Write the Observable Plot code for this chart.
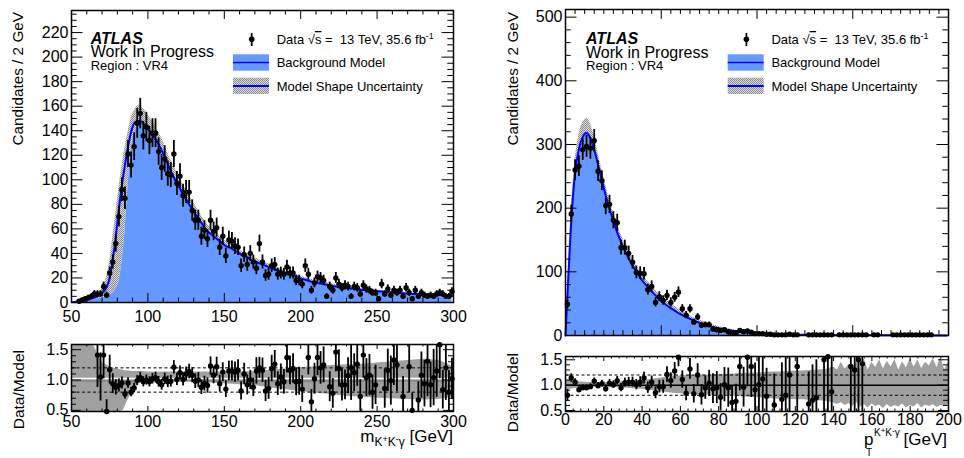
<!DOCTYPE html>
<html><head><meta charset="utf-8">
<script src="https://cdn.jsdelivr.net/npm/d3@7"></script>
<script src="https://cdn.jsdelivr.net/npm/@observablehq/plot@0.6"></script>
<style>
body{margin:0;background:#fff;}
#wrap{position:relative;width:964px;height:458px;overflow:hidden;background:#fff;}
#wrap > svg{position:absolute;}
</style></head><body><div id="wrap"></div>
<script>
// ---------------- LEFT PANEL: m(K+K-gamma), 2 GeV bins ----------------
const massBins = d3.range(51, 300, 2);
const massData = [
  null,null,1,2,3,4,5,7,7,7,
  13,6,24,33,48,70,92,85,121,112,
  127,146,154,136,143,132,138,138,123,110,
  117,105,104,121,97,103,87,90,90,75,
  67,67,54,59,52,67,58,61,45,54,
  38,51,50,46,45,30,39,31,40,33,
  28,48,33,22,23,30,31,23,24,23,
  29,24,24,18,18,15,30,23,10,16,
  21,20,18,5,13,10,20,15,12,14,
  13,5,13,12,7,14,11,10,8,8,
  3,15,7,11,6,10,8,10,5,12,
  8,3,10,5,8,6,5,6,5,7,
  8,7,5,5,9];
const massModel = [
  0.3,0.6,1.0,1.5,2.0,2.5,3.2,4.0,5.0,6.7,
  9,12.5,20,35,54,76,96,112,127,139,
  146,148,148,146,143,140,137,133,129,124,
  119,113,107,102,97,93,88,84,80,76,
  72,68,65,61,58,56,54,52,50,48,
  46,45,44,42,41,39,38,37,35,34,
  33,32,31,30,29,28,27,26,25,24,
  23,22.3,21.6,21,20,19.2,18.5,17.7,17,16.5,
  16,15.5,15,14.5,14,13.5,13,12.6,12.2,11.9,
  11.6,11.3,11,10.7,10.4,10.2,10,9.7,9.5,9.3,
  9.1,8.9,8.7,8.5,8.3,8.1,7.9,7.7,7.5,7.3,
  7.1,7,6.9,6.8,6.7,6.6,6.5,6.4,6.3,6.2,
  6.1,6,6,5.9,5.8];
// blue filled model on the rising edge (bins 51..97); afterwards it follows the line
const massAreaRise = [0.1,0.3,0.5,0.8,1.1,1.5,2,2.5,3,3.5, 4,5,6,8,11,17,33,58,95,124, 137,143,145,145];
const massBandHi = [
  0.5,1,1.5,2.2,3,3.7,4.5,5.5,7,9.5,
  14,21,34,53,73,93,111,126,139,150,
  156,160,161,158,155,151,148,144,139,134,
  128,122,116,111,106,101,96,92,87,83,
  79,75,71,67,64,61,59,57,54,52,
  50,49,47,46,44,42,41,40,38,37,
  36,34.5,33.5,32.5,31.5,30.5,29.5,28.5,27.5,26.5,
  25.5,24.5,23.5,22.8,22,21.2,20.4,19.6,19,18.4,
  17.8,17.2,16.7,16.2,15.7,15.2,14.7,14.2,13.8,13.4,
  13,12.6,12.2,11.9,11.6,11.3,11,10.7,10.4,10.1,
  9.9,9.7,9.4,9.2,9,8.8,8.6,8.4,8.2,8,
  7.8,7.6,7.5,7.4,7.3,7.2,7.1,7,6.9,6.8,
  6.7,6.6,6.6,6.5,6.4];
const massRatioX = [
  67,69,71,73,75,77,79,81,83,85, 87,89,91,93,95,97,99,101,103,105,
  107,109,111,113,115,117,119,121,123,125, 127,129,131,133,135,137,139,141,143,145,
  147,149,151,153,155,157,159,161,163,165, 167,169,171,173,175,177,179,181,183,185,
  187,189,191,193,195,197,199,201,
  205,207,209,211,213,215,
  219,221,223,225,227,229,231,233,235,237,239,241,243,245,247,249,
  255,257,259,261,263, 267, 271,273,
  277,279,281,283,285,287,289,291,293,295,297,299];
const massRatioY = [
  1.41,1.05,1.41,0.48,1.17,0.94,0.88,0.91,0.95,0.77, 0.95,0.80,0.87,0.99,1.04,0.97,1.00,0.97,1.02,1.04,
  0.97,0.92,1.02,0.97,0.98,1.21,1.01,1.12,1.01,1.10, 1.14,1.08,0.98,1.00,0.88,0.94,0.91,1.23,1.08,1.22,
  0.94,1.13,0.85,1.15,1.15,1.13,1.16,0.82,1.10,0.92, 1.00,0.88,1.15,1.20,1.16,0.82,0.86,1.19,1.26,0.94,
  1.05,0.97,1.37,1.16,1.19,0.97,0.98,0.85,
  1.37,0.64,1.02,1.37,1.20,1.25,
  0.89,0.78,1.46,1.19,0.92,0.92,1.07,1.20,1.12,1.26,0.73,1.41,1.04,1.08,0.80,0.92,
  0.86,1.16,0.99,1.33,1.25, 0.73, 1.22,0.50,
  0.67,1.08,0.94,1.31,0.92,1.04,1.15,1.58,0.84,1.20,0.80,1.02];
const massBandX  = [50,64,66,68,70,72,74,76,78,80,82,84,86,88,90,92,94,96,100,110,120,130,140,150,160,170,180,190,200,210,220,230,240,250,260,270,280,290,300];
const massBandRHi = [1.59,1.59,1.50,1.38,1.30,1.26,1.23,1.21,1.19,1.18,1.17,1.16,1.15,1.15,1.14,1.14,1.14,1.14,1.13,1.13,1.13,1.13,1.13,1.13,1.13,1.14,1.16,1.18,1.20,1.22,1.24,1.25,1.26,1.28,1.30,1.32,1.34,1.33,1.22];
const massBandRLo = [0.48,0.48,0.48,0.48,0.48,0.48,0.48,0.48,0.48,0.48,0.48,0.50,0.62,0.72,0.81,0.88,0.94,0.98,1.00,1.00,0.99,0.97,0.95,0.94,0.92,0.91,0.87,0.84,0.81,0.78,0.76,0.73,0.72,0.70,0.69,0.68,0.67,0.68,0.72];
const massXTicks = [50,100,150,200,250,300];
const massYTicks = [0,20,40,60,80,100,120,140,160,180,200,220];
const ratioYTicks = [0.5,1.0,1.5];

// ---------------- RIGHT PANEL: pT(K+K-gamma), 2 GeV bins ----------------
const ptBins = d3.range(1, 200, 2);
const ptData = [
  49,191,260,266,292,297,294,306,258,243,
  204,206,181,177,138,138,129,115,99,98,
  97,72,77,52,61,55,63,52,60,68,
  42,32,42,21,29,16,17,17,10,9,
  8,9,6,4,4,8,6,7,5,3,
  3,3,2,2,1,1,1,1,2,1,
  1,null,null,1,1,1,1,1,1,1,
  null,1,1,1,1,1,1,1,1,null,
  1,1,null,null,null,1,1,1,1,1,
  1,1,1,1,1,1,null,null,null,null];
const ptCurveX = [0].concat(ptBins);
const ptModel = [0,
  62,180,255,293,312,318,310,292,268,244,
  220,199,180,162,147,133,121,110,100,91,
  83,76,69,63,57,52,47,43,39,35,
  32,29,26,23.5,21,19,17,15,13.5,12,
  10.7,9.5,8.5,7.6,6.8,6.1,5.5,4.9,4.4,3.9,
  3.5,3.1,2.8,2.5,2.2,2.0,1.8,1.6,1.45,1.3,
  1.2,1.1,1.0,0.9,0.85,0.8,0.75,0.7,0.65,0.6,
  0.56,0.52,0.49,0.46,0.43,0.4,0.38,0.36,0.34,0.32,
  0.3,0.28,0.26,0.25,0.24,0.23,0.22,0.21,0.2,0.19,
  0.18,0.17,0.17,0.16,0.15,0.15,0.14,0.14,0.13,0.13];
const ptBandHi = [0,
  75,198,275,315,334,341,333,313,287,261,
  236,214,194,175,159,145,132,120,110,101,
  92,85,78,71.5,65.5,60,55,50,46,42,
  38,34.5,31,28,25.5,23,20.5,18.3,16.5,14.8,
  13.2,11.8,10.5,9.4,8.4,7.5,6.7,6,5.4,4.8,
  4.3,3.8,3.4,3.0,2.7,2.4,2.2,2.0,1.8,1.6,
  1.45,1.3,1.2,1.1,1.02,0.95,0.9,0.85,0.8,0.75,
  0.7,0.66,0.62,0.58,0.55,0.52,0.49,0.46,0.44,0.42,
  0.4,0.38,0.36,0.35,0.34,0.33,0.32,0.31,0.3,0.29,
  0.28,0.27,0.26,0.25,0.24,0.23,0.22,0.21,0.2,0.2];
const ptRatioX = [
  1,3,5,7,9,11,13,15,17,19, 21,23,25,27,29,31,33,35,37,39,
  41,43,45,47,49,51,53,55,57,59, 61,63,65,67,69,71,73,75,77,79,
  81,83,85,87,89,91,93,95,97,99, 101,103,105,
  109,113,115,117,121,127,129,131,135,137,139,149,151,153,155];
const ptRatioY = [
  0.80,1.14,1.06,0.91,0.95,0.95,0.97,1.08,0.99,1.03, 0.93,1.04,1.01,1.09,0.95,1.05,1.06,1.06,1.01,1.06,
  1.14,0.95,1.06,0.85,0.97,0.97,1.21,1.09,1.28,1.55, 1.11,0.84,1.32,0.83,1.20,0.81,0.95,1.04,0.93,0.95,
  0.76,1.01,0.95,0.66,0.68,1.37,0.96,1.55,1.37,0.91, 1.01,1.12,0.78,
  0.61,0.72,0.80,1.20,1.37,0.63,0.70,0.75,1.50,1.56,0.87,1.37,1.30,1.50,1.42];
const ptBandX = [0,4,8,12,16,20,24,28,32,36,40,44,48,52,56,60,64,68,72,76,80,84,88,92,96,100,104,108,112,116,120,124,128,132,136,140,
  142,144,146,148,150,152,154,156,158,160,162,164,166,168,170,172,174,176,178,180,182,184,186,188,190,192,194,196,198,200];
const ptBandRHi = [1.10,1.08,1.06,1.05,1.05,1.05,1.05,1.06,1.07,1.08,1.09,1.11,1.13,1.15,1.17,1.18,1.19,1.19,1.20,1.20,1.21,1.21,1.22,1.23,1.24,1.24,1.25,1.26,1.26,1.27,1.28,1.28,1.29,1.30,1.31,1.36,
  1.30,1.45,1.32,1.40,1.28,1.48,1.33,1.52,1.30,1.45,1.35,1.50,1.32,1.47,1.36,1.50,1.30,1.46,1.34,1.52,1.36,1.49,1.33,1.45,1.38,1.52,1.35,1.55,1.30,1.45];
const ptBandRLo = [0.90,0.93,0.95,0.96,0.96,0.96,0.95,0.95,0.94,0.93,0.92,0.90,0.88,0.86,0.84,0.83,0.82,0.81,0.80,0.80,0.79,0.79,0.78,0.77,0.76,0.75,0.74,0.73,0.72,0.72,0.71,0.71,0.70,0.69,0.68,0.65,
  0.62,0.66,0.60,0.64,0.58,0.66,0.57,0.62,0.55,0.63,0.58,0.61,0.54,0.62,0.56,0.60,0.57,0.63,0.55,0.60,0.57,0.64,0.55,0.61,0.58,0.62,0.56,0.60,0.58,0.62];
const ptRatioXTicks = [0,20,40,60,80,100,120,140,160,180,200];
const ptYTicks = [0,100,200,300,400,500];

// ---------------- build tables ----------------
const massTable = massBins.map((x, i) => ({x, model: massModel[i],
  area: i < massAreaRise.length ? massAreaRise[i] : massModel[i], hi: massBandHi[i]}));
const massPoints = massBins.map((x, i) => ({x, n: massData[i]})).filter(d => d.n != null);
const ptTable = ptCurveX.map((x, i) => ({x, model: ptModel[i], area: ptModel[i], hi: ptBandHi[i]}));
const ptPoints = ptBins.map((x, i) => ({x, n: ptData[i]})).filter(d => d.n != null);
function ratioTable(xs, rs, bins, counts) {
  return xs.map((x, i) => {
    const n = counts[bins.indexOf(x)], r = rs[i];
    const e = n ? r / Math.sqrt(n) : 0;
    return {x, r, lo: r - e, hi: r + e};
  });
}
const massRatio = ratioTable(massRatioX, massRatioY, massBins, massData);
const ptRatio = ratioTable(ptRatioX, ptRatioY, ptBins, ptData);
const massBand = massBandX.map((x, i) => ({x, lo: massBandRLo[i], hi: massBandRHi[i]}));
const ptBand = ptBandX.map((x, i) => ({x, lo: ptBandRLo[i], hi: ptBandRHi[i]}));

// ---------------- drawing ----------------
const FONT = '"Liberation Sans", Arial, Helvetica, sans-serif';
const LINE_BLUE = "#0000ff", AREA_BLUE = "#6699ff", RATIO_BAND = "#a0a0a0";
const wrap = document.getElementById("wrap");

function frameTicks(W, H, xMaj, xMin, yMaj, yMin, xLen, yLen) {
  const o = {stroke: "black", strokeWidth: 1};
  return [
    Plot.tickX(xMaj, {...o, x: d => d, insetTop: H - xLen[0]}),
    Plot.tickX(xMaj, {...o, x: d => d, insetBottom: H - xLen[0]}),
    Plot.tickX(xMin, {...o, x: d => d, insetTop: H - xLen[1]}),
    Plot.tickX(xMin, {...o, x: d => d, insetBottom: H - xLen[1]}),
    Plot.tickY(yMaj, {...o, y: d => d, insetRight: W - yLen[0]}),
    Plot.tickY(yMaj, {...o, y: d => d, insetLeft: W - yLen[0]}),
    Plot.tickY(yMin, {...o, y: d => d, insetRight: W - yLen[1]}),
    Plot.tickY(yMin, {...o, y: d => d, insetLeft: W - yLen[1]})
  ];
}
const baseStyle = {fontFamily: FONT, fontSize: "16px", background: "transparent", overflow: "visible"};

function place(svg, left, top) { svg.style.left = left + "px"; svg.style.top = top + "px"; wrap.appendChild(svg); }

function mainPlot(o) {
  const W = o.w - o.m[0] - o.m[1], H = o.h - o.m[2] - o.m[3];
  return Plot.plot({
    width: o.w, height: o.h, marginLeft: o.m[0], marginRight: o.m[1], marginTop: o.m[2], marginBottom: o.m[3],
    style: baseStyle,
    x: {domain: o.xDomain, label: null, axis: o.xLabels ? undefined : null},
    y: {domain: o.yDomain, label: null},
    marks: [
      Plot.areaY(o.table, {x: "x", y1: "area", y2: "hi", fill: "url(#hatch)", curve: "monotone-x"}),
      Plot.areaY(o.table, {x: "x", y: "area", fill: AREA_BLUE, curve: "monotone-x"}),
      Plot.lineY(o.table, {x: "x", y: "model", stroke: LINE_BLUE, strokeWidth: 2, curve: "monotone-x"}),
      Plot.ruleX(o.points, {x: "x", y1: d => d.n - Math.sqrt(d.n), y2: d => d.n + Math.sqrt(d.n), stroke: "black", strokeWidth: 1.8}),
      Plot.dot(o.points, {x: "x", y: "n", r: 2.7, fill: "black", stroke: "none"}),
      ...frameTicks(W, H, o.xMaj, o.xMin, o.yMaj, o.yMin, o.xLen, o.yLen),
      Plot.frame({stroke: "black", strokeWidth: 1.5}),
      Plot.axisY(o.yLabels, {tickSize: 0, tickPadding: 3, label: null}),
      o.xLabels ? Plot.axisX(o.xLabels, {tickSize: 0, tickPadding: 8, label: null}) : null
    ]
  });
}

function ratioPlot(o) {
  const W = o.w - o.m[0] - o.m[1], H = o.h - o.m[2] - o.m[3];
  return Plot.plot({
    width: o.w, height: o.h, marginLeft: o.m[0], marginRight: o.m[1], marginTop: o.m[2], marginBottom: o.m[3],
    style: baseStyle,
    x: {domain: o.xDomain, label: null},
    y: {domain: o.yDomain, label: null, clamp: true},
    marks: [
      Plot.areaY(o.band, {x: "x", y1: "lo", y2: "hi", fill: RATIO_BAND}),
      ...o.unity,
      Plot.ruleY([0.8, 1.2], {stroke: "black", strokeWidth: 1, strokeDasharray: "3,2.5"}),
      Plot.ruleX(o.points, {x: "x", y1: "lo", y2: "hi", stroke: "black", strokeWidth: 1.8}),
      Plot.dot(o.points, {x: "x", y: "r", r: 2.7, fill: "black", stroke: "none"}),
      ...frameTicks(W, H, o.xMaj, o.xMin, ratioYTicks, [0.6,0.7,0.8,0.9,1.1,1.2,1.3,1.4], o.xLen, o.yLen),
      Plot.frame({stroke: "black", strokeWidth: 1.5}),
      Plot.axisY(ratioYTicks, {tickSize: 0, tickPadding: 3, tickFormat: d => d.toFixed(1), label: null}),
      Plot.axisX(o.xLabels, {tickSize: 0, tickPadding: o.pad, label: null})
    ]
  });
}

// hatch pattern + overlay texts
const legend = (lx) => {
  const mx = lx + 18.7, tx = lx + 43.7;
  return `
  <line x1="${mx}" x2="${mx}" y1="33" y2="46" stroke="black" stroke-width="1.8"/>
  <circle cx="${mx}" cy="39.3" r="2.8" fill="black"/>
  <text x="${tx}" y="44" font-size="13" style="white-space:pre">Data <tspan>√</tspan><tspan text-decoration="overline">s</tspan> =  13 TeV, 35.6 fb<tspan font-size="9" dy="-5">-1</tspan></text>
  <rect x="${lx}" y="54.3" width="36" height="16.4" fill="${AREA_BLUE}"/>
  <line x1="${lx}" x2="${lx + 36}" y1="62.5" y2="62.5" stroke="${LINE_BLUE}" stroke-width="1.5"/>
  <text x="${tx}" y="67" font-size="13">Background Model</text>
  <rect x="${lx}" y="77.7" width="36" height="16.3" fill="url(#hatch)"/>
  <line x1="${lx}" x2="${lx + 36}" y1="86" y2="86" stroke="${LINE_BLUE}" stroke-width="2"/>
  <text x="${tx}" y="91.3" font-size="13">Model Shape Uncertainty</text>`;
};
const atlas = (ax, wip, wy, ry) => `
  <text x="${ax}" y="43.5" font-size="16" font-weight="bold" font-style="italic">ATLAS</text>
  <text x="${ax}" y="${wy}" font-size="16">${wip}</text>
  <text x="${ax}" y="${ry}" font-size="13">Region : VR4</text>`;

const defs = document.createElementNS("http://www.w3.org/2000/svg", "svg");
defs.setAttribute("width", "0"); defs.setAttribute("height", "0");
defs.innerHTML = `<defs><pattern id="hatch" width="2" height="2" patternUnits="userSpaceOnUse">
  <rect width="2" height="2" fill="#dcdcdc"/>
  <rect width="1" height="1" fill="#8a8a8a"/><rect x="1" y="1" width="1" height="1" fill="#8a8a8a"/></pattern></defs>`;
wrap.appendChild(defs);

place(mainPlot({table: massTable, points: massPoints, xDomain: [50, 300], yDomain: [0, 238],
  w: 480, h: 330, m: [71, 27, 10, 28],
  xMaj: massXTicks, xMin: d3.range(60, 300, 10).filter(v => v % 50),
  yMaj: massYTicks, yMin: d3.range(5, 238, 5).filter(v => v % 20),
  xLen: [9, 4.5], yLen: [11.5, 5.7], yLabels: massYTicks, xLabels: massXTicks}), 0, 0);

place(ratioPlot({band: massBand, points: massRatio, xDomain: [50, 300], yDomain: [0.481, 1.585],
  w: 480, h: 128, m: [71, 27, 14, 47], pad: 4,
  xMaj: massXTicks, xMin: d3.range(60, 300, 10).filter(v => v % 50), xLabels: massXTicks,
  xLen: [5, 2.5], yLen: [10, 5],
  unity: [Plot.ruleY([1], {stroke: "white", strokeWidth: 1.6, dy: -1.5}),
          Plot.ruleY([1], {stroke: "#707070", strokeWidth: 1.2, dy: 1})]}), 0, 330);

place(mainPlot({table: ptTable, points: ptPoints, xDomain: [0, 200], yDomain: [0, 512],
  w: 484, h: 340, m: [85, 16, 9, 5],
  xMaj: [50, 100, 150], xMin: d3.range(5, 200, 5).filter(v => v % 50),
  yMaj: ptYTicks, yMin: d3.range(20, 512, 20).filter(v => v % 100),
  xLen: [9.8, 4.9], yLen: [11.5, 5.7], yLabels: ptYTicks, xLabels: null}), 480, 0);

place(ratioPlot({band: ptBand, points: ptRatio, xDomain: [0, 200], yDomain: [0.48, 1.565],
  w: 484, h: 118, m: [85, 16, 16, 47], pad: 2,
  xMaj: ptRatioXTicks, xMin: d3.range(4, 200, 4).filter(v => v % 20), xLabels: ptRatioXTicks,
  xLen: [5, 2.5], yLen: [10, 5],
  unity: [Plot.ruleY([1], {stroke: "black", strokeWidth: 1.5})]}), 480, 340);

const ov = document.createElementNS("http://www.w3.org/2000/svg", "svg");
ov.setAttribute("width", "964"); ov.setAttribute("height", "458");
ov.setAttribute("font-family", FONT);
ov.style.left = "0px"; ov.style.top = "0px"; ov.style.overflow = "visible";
ov.innerHTML = `
  ${atlas(90.7, "Work In Progress", 57, 69.5)}
  ${legend(233)}
  ${atlas(586, "Work in Progress", 57.8, 70)}
  ${legend(727.7)}
  <text transform="translate(23,12) rotate(-90)" text-anchor="end" font-size="15.3">Candidates / 2 GeV</text>
  <text transform="translate(517.5,12) rotate(-90)" text-anchor="end" font-size="15.3">Candidates / 2 GeV</text>
  <text transform="translate(24,350) rotate(-90)" text-anchor="end" font-size="15.5">Data/Model</text>
  <text transform="translate(517.5,353) rotate(-90)" text-anchor="end" font-size="15.5">Data/Model</text>
  <text x="453" y="442" text-anchor="end" font-size="17" style="white-space:pre">m<tspan font-size="12" dy="4">K</tspan><tspan font-size="9" dy="-4">+</tspan><tspan font-size="12" dy="4">K</tspan><tspan font-size="9" dy="-4">-</tspan><tspan font-size="12" dy="4">γ</tspan><tspan font-size="17" dy="-4"> [GeV]</tspan></text>
  <text x="864" y="445" font-size="17">p</text>
  <text x="874" y="436" font-size="10">K<tspan font-size="8" dy="-3">+</tspan><tspan font-size="10" dy="3">K</tspan><tspan font-size="8" dy="-3">-</tspan><tspan font-size="10" dy="3">γ</tspan></text>
  <text x="866" y="456" font-size="10">T</text>
  <text x="947" y="445" text-anchor="end" font-size="17">[GeV]</text>`;
wrap.appendChild(ov);
</script></body></html>
